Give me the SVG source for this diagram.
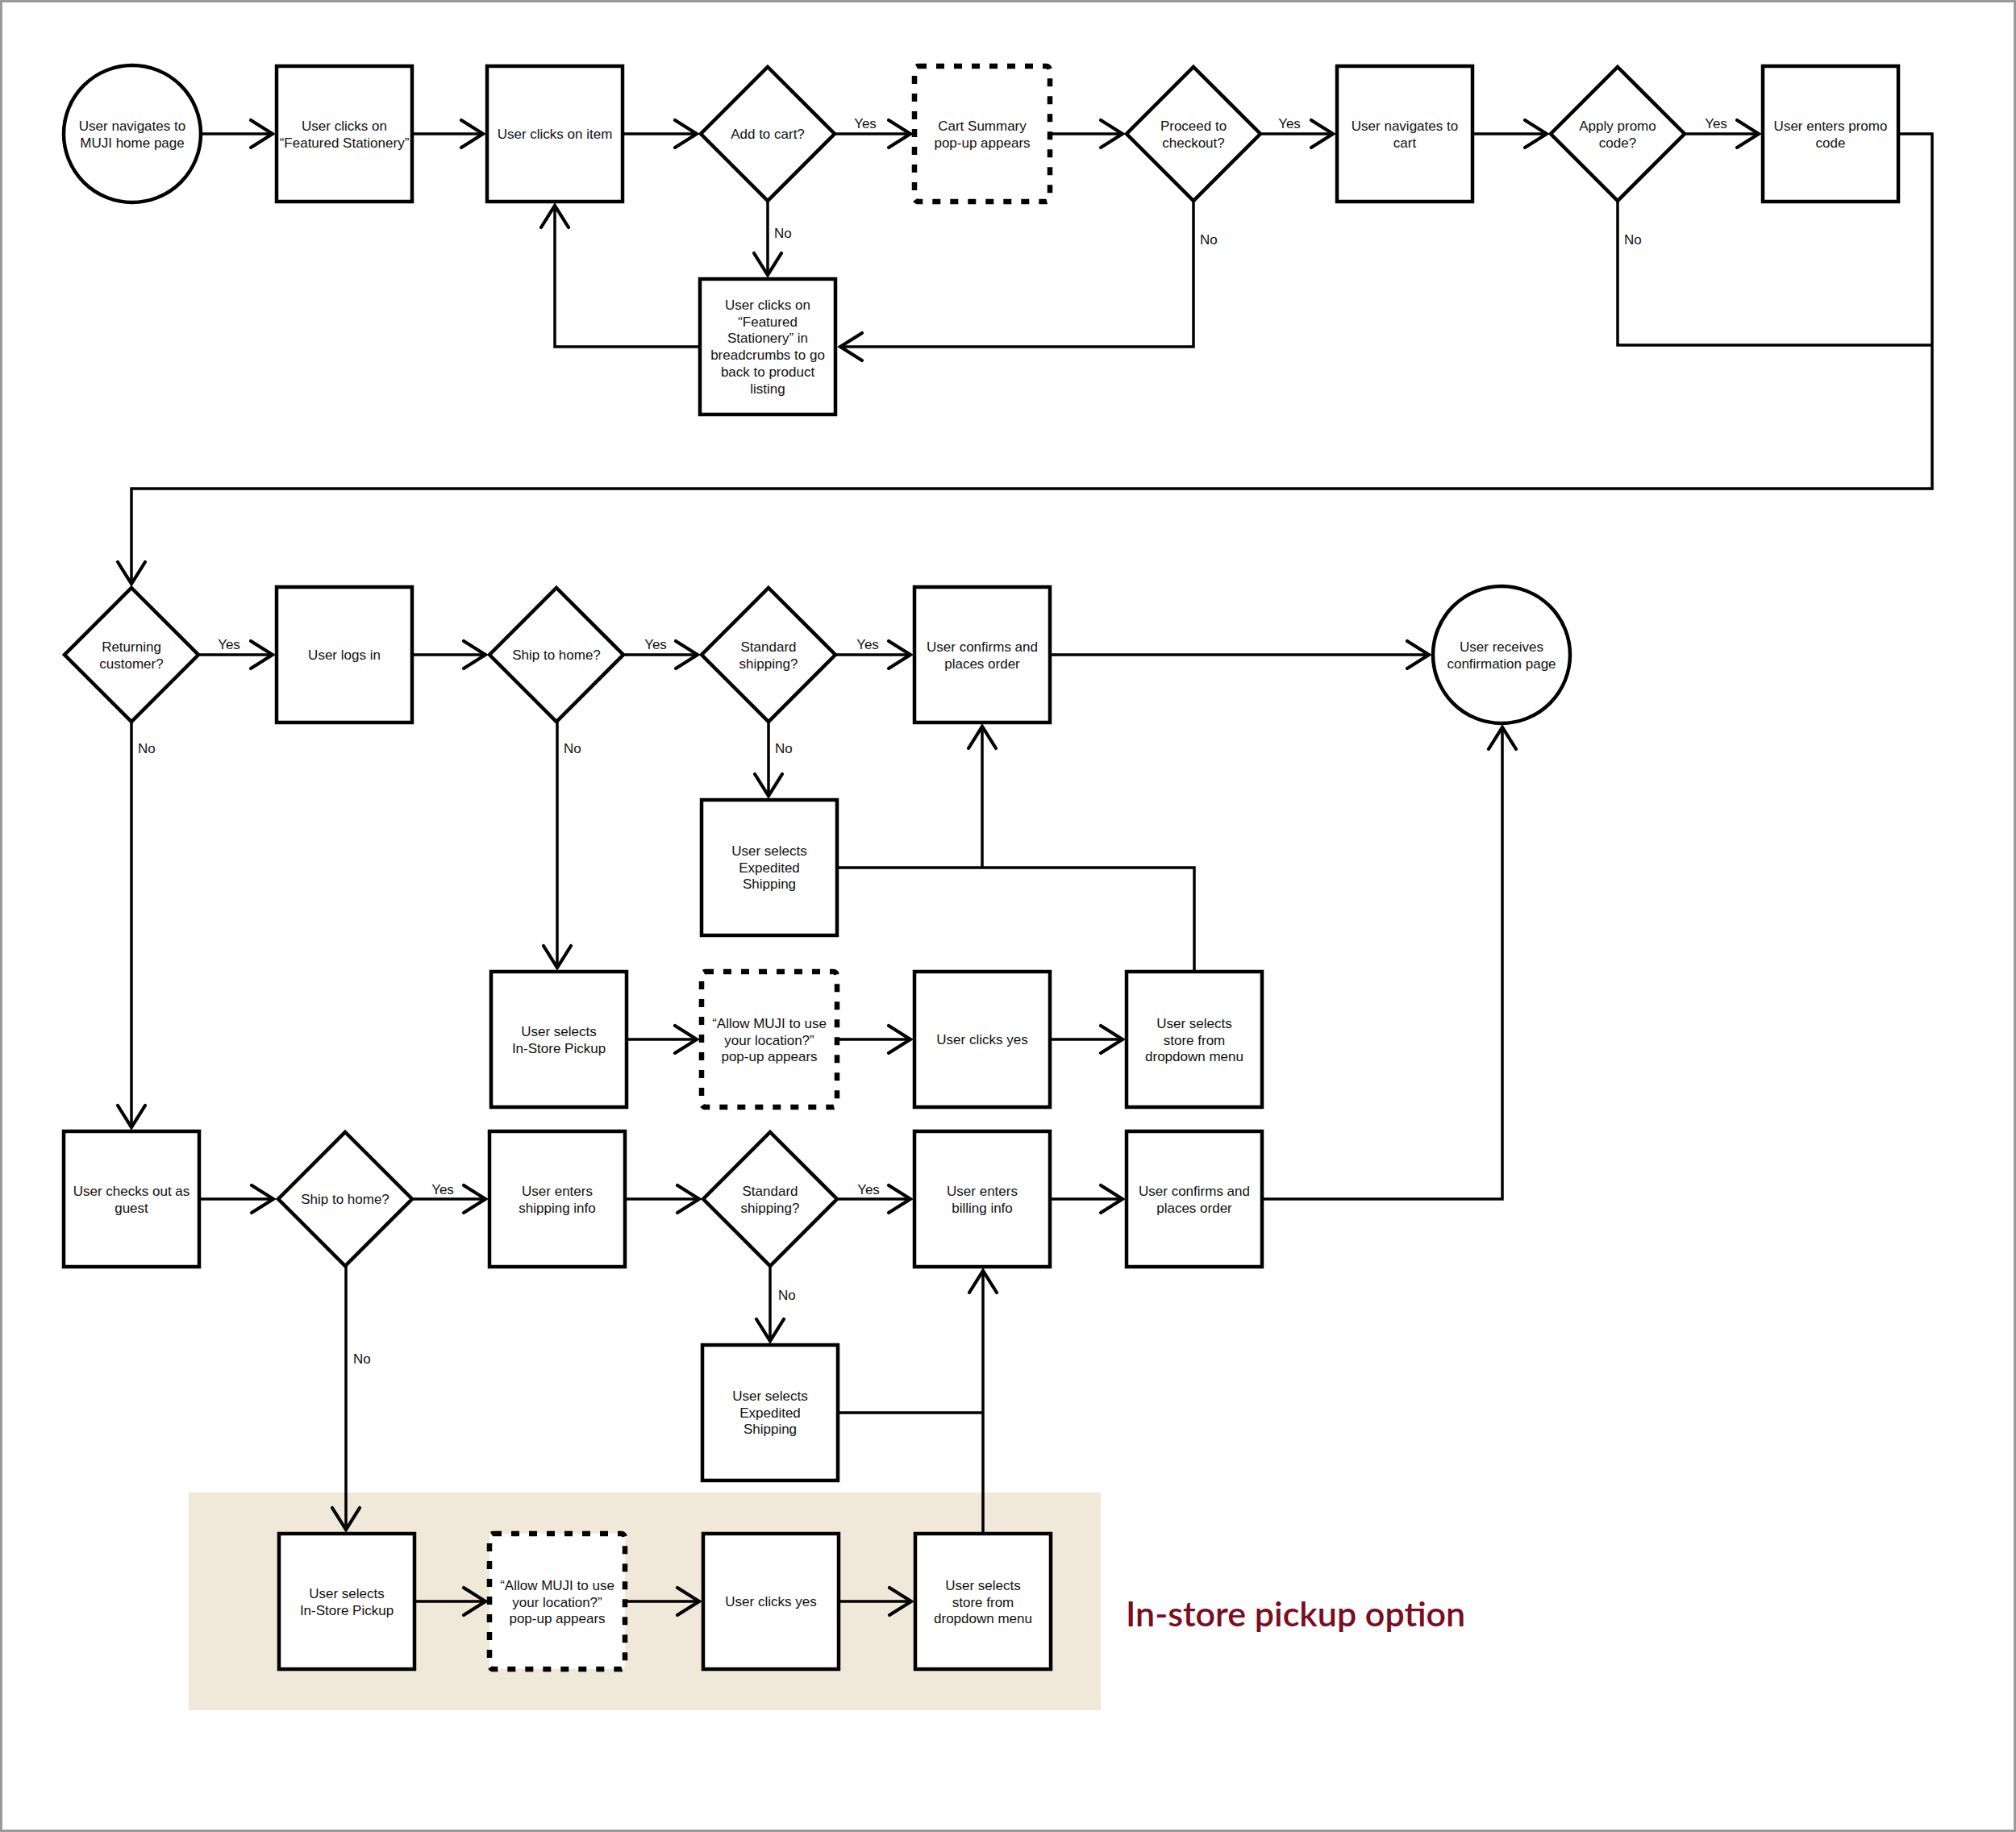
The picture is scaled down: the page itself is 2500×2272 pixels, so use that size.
<svg xmlns="http://www.w3.org/2000/svg" width="2500" height="2272" viewBox="0 0 2500 2272">
<defs>
<style>
.n{fill:#fff;stroke:#000;stroke-width:4.5}
.d{fill:#fff;stroke:#000;stroke-width:6.5;stroke-dasharray:10 12;}
.t{font-family:"Liberation Sans",Arial,sans-serif;font-size:17px;fill:#111;text-anchor:middle}
.l{font-family:"Liberation Sans",Arial,sans-serif;font-size:17px;fill:#111}
.c{fill:none;stroke:#000;stroke-width:3.5}
.a{marker-end:url(#ah)}
</style>
<marker id="ah" viewBox="-34 -24 40 48" refX="0" refY="0" markerWidth="40" markerHeight="48" markerUnits="userSpaceOnUse" orient="auto">
<path d="M-27,-17 L0,0 L-27,17" fill="none" stroke="#000" stroke-width="4.2" stroke-linecap="round"/>
</marker>
</defs>
<rect x="0" y="0" width="2500" height="2272" fill="#fff"/>
<rect x="1.5" y="1.5" width="2497" height="2269" fill="none" stroke="#9a9a9a" stroke-width="3"/>
<rect id="highlight" x="234" y="1851" width="1131" height="270" fill="#f0e8d9"/>
<text x="1396" y="2017" font-family="Lato,'Open Sans',sans-serif" font-size="43" font-weight="600" fill="#7a0d1f">In-store pickup option</text>

<g id="connectors">
<path class="c a" d="M249,166 H338"/>
<path class="c a" d="M511,166 H599"/>
<path class="c a" d="M772,166 H864"/>
<path class="c a" d="M1035,166 H1129"/>
<path class="c a" d="M1302,166 H1392"/>
<path class="c a" d="M1563,166 H1653"/>
<path class="c a" d="M1826,166 H1918"/>
<path class="c a" d="M2089,166 H2181"/>
<path class="c a" d="M952,249 V341"/>
<path class="c a" d="M868,430 H688 V255"/>
<path class="c a" d="M1480,249 V430 H1042"/>
<path class="c" d="M2006,249 V428 H2396"/>
<path class="c a" d="M2354,166 H2396 V606 H163 V724"/>

<path class="c a" d="M246,812 H338"/>
<path class="c a" d="M511,812 H602"/>
<path class="c a" d="M773,812 H865"/>
<path class="c a" d="M1036,812 H1129"/>
<path class="c a" d="M1302,812 H1772"/>
<path class="c a" d="M953,895 V987"/>
<path class="c" d="M1039,1076 H1481 V1205"/>
<path class="c a" d="M1218,1076 V901"/>
<path class="c a" d="M691,895 V1200"/>
<path class="c a" d="M163,895 V1398"/>
<path class="c a" d="M776,1289 H864"/>
<path class="c a" d="M1038,1289 H1129"/>
<path class="c a" d="M1302,1289 H1392"/>

<path class="c a" d="M247,1487 H339"/>
<path class="c a" d="M510,1487 H602"/>
<path class="c a" d="M775,1487 H867"/>
<path class="c a" d="M1038,1487 H1129"/>
<path class="c a" d="M1302,1487 H1392"/>
<path class="c a" d="M1565,1487 H1863 V902"/>
<path class="c a" d="M955,1570 V1663"/>
<path class="c" d="M1039,1752 H1219"/>
<path class="c a" d="M1219,1902 V1576"/>
<path class="c a" d="M429,1570 V1897"/>
<path class="c a" d="M514,1986 H602"/>
<path class="c a" d="M775,1986 H867"/>
<path class="c a" d="M1040,1986 H1130"/>

<text class="t" x="1073" y="159">Yes</text>
<text class="t" x="1599" y="159">Yes</text>
<text class="t" x="2128" y="159">Yes</text>
<text class="t" x="284" y="805">Yes</text>
<text class="t" x="813" y="805">Yes</text>
<text class="t" x="1076" y="805">Yes</text>
<text class="t" x="549" y="1481">Yes</text>
<text class="t" x="1077" y="1481">Yes</text>
<text class="l" x="960" y="295">No</text>
<text class="l" x="1488" y="303">No</text>
<text class="l" x="2014" y="303">No</text>
<text class="l" x="171" y="934">No</text>
<text class="l" x="699" y="934">No</text>
<text class="l" x="961" y="934">No</text>
<text class="l" x="438" y="1691">No</text>
<text class="l" x="965" y="1612">No</text>
</g>

<g id="n-home"><circle class="n" cx="164" cy="166" r="85"/><text class="t" x="164" y="162">User navigates to<tspan x="164" dy="20.7">MUJI home page</tspan></text></g>
<g id="n-featured"><rect class="n" x="343" y="82" width="168" height="168"/><text class="t" x="427" y="162">User clicks on<tspan x="427" dy="20.7">“Featured Stationery”</tspan></text></g>
<g id="n-item"><rect class="n" x="604" y="82" width="168" height="168"/><text class="t" x="688" y="172">User clicks on item</text></g>
<g id="n-addcart"><polygon class="n" points="952,83 1035,166 952,249 869,166"/><text class="t" x="952" y="172">Add to cart?</text></g>
<g id="n-cartsummary"><rect class="d" x="1134" y="82" width="168" height="168" rx="5"/><text class="t" x="1218" y="162">Cart Summary<tspan x="1218" dy="20.7">pop-up appears</tspan></text></g>
<g id="n-proceed"><polygon class="n" points="1480,83 1563,166 1480,249 1397,166"/><text class="t" x="1480" y="162">Proceed to<tspan x="1480" dy="20.7">checkout?</tspan></text></g>
<g id="n-navcart"><rect class="n" x="1658" y="82" width="168" height="168"/><text class="t" x="1742" y="162">User navigates to<tspan x="1742" dy="20.7">cart</tspan></text></g>
<g id="n-promo"><polygon class="n" points="2006,83 2089,166 2006,249 1923,166"/><text class="t" x="2006" y="162">Apply promo<tspan x="2006" dy="20.7">code?</tspan></text></g>
<g id="n-enterpromo"><rect class="n" x="2186" y="82" width="168" height="168"/><text class="t" x="2270" y="162">User enters promo<tspan x="2270" dy="20.7">code</tspan></text></g>
<g id="n-breadcrumbs"><rect class="n" x="868" y="346" width="168" height="168"/><text class="t" x="952" y="384">User clicks on<tspan x="952" dy="20.7">“Featured</tspan><tspan x="952" dy="20.7">Stationery” in</tspan><tspan x="952" dy="20.7">breadcrumbs to go</tspan><tspan x="952" dy="20.7">back to product</tspan><tspan x="952" dy="20.7">listing</tspan></text></g>

<g id="n-returning"><polygon class="n" points="163,729 246,812 163,895 80,812"/><text class="t" x="163" y="808">Returning<tspan x="163" dy="20.7">customer?</tspan></text></g>
<g id="n-login"><rect class="n" x="343" y="728" width="168" height="168"/><text class="t" x="427" y="818">User logs in</text></g>
<g id="n-shiphome1"><polygon class="n" points="690,729 773,812 690,895 607,812"/><text class="t" x="690" y="818">Ship to home?</text></g>
<g id="n-standard1"><polygon class="n" points="953,729 1036,812 953,895 870,812"/><text class="t" x="953" y="808">Standard<tspan x="953" dy="20.7">shipping?</tspan></text></g>
<g id="n-confirm1"><rect class="n" x="1134" y="728" width="168" height="168"/><text class="t" x="1218" y="808">User confirms and<tspan x="1218" dy="20.7">places order</tspan></text></g>
<g id="n-confirmpage"><circle class="n" cx="1862" cy="812" r="85"/><text class="t" x="1862" y="808">User receives<tspan x="1862" dy="20.7">confirmation page</tspan></text></g>
<g id="n-expedited1"><rect class="n" x="870" y="992" width="168" height="168"/><text class="t" x="954" y="1061">User selects<tspan x="954" dy="20.7">Expedited</tspan><tspan x="954" dy="20.7">Shipping</tspan></text></g>
<g id="n-instore1"><rect class="n" x="609" y="1205" width="168" height="168"/><text class="t" x="693" y="1285">User selects<tspan x="693" dy="20.7">In-Store Pickup</tspan></text></g>
<g id="n-allow1"><rect class="d" x="870" y="1205" width="168" height="168" rx="5"/><text class="t" x="954" y="1275">“Allow MUJI to use<tspan x="954" dy="20.7">your location?”</tspan><tspan x="954" dy="20.7">pop-up appears</tspan></text></g>
<g id="n-yes1"><rect class="n" x="1134" y="1205" width="168" height="168"/><text class="t" x="1218" y="1295">User clicks yes</text></g>
<g id="n-store1"><rect class="n" x="1397" y="1205" width="168" height="168"/><text class="t" x="1481" y="1275">User selects<tspan x="1481" dy="20.7">store from</tspan><tspan x="1481" dy="20.7">dropdown menu</tspan></text></g>

<g id="n-guest"><rect class="n" x="79" y="1403" width="168" height="168"/><text class="t" x="163" y="1483">User checks out as<tspan x="163" dy="20.7">guest</tspan></text></g>
<g id="n-shiphome2"><polygon class="n" points="428,1404 511,1487 428,1570 345,1487"/><text class="t" x="428" y="1493">Ship to home?</text></g>
<g id="n-shipinfo"><rect class="n" x="607" y="1403" width="168" height="168"/><text class="t" x="691" y="1483">User enters<tspan x="691" dy="20.7">shipping info</tspan></text></g>
<g id="n-standard2"><polygon class="n" points="955,1404 1038,1487 955,1570 872,1487"/><text class="t" x="955" y="1483">Standard<tspan x="955" dy="20.7">shipping?</tspan></text></g>
<g id="n-billing"><rect class="n" x="1134" y="1403" width="168" height="168"/><text class="t" x="1218" y="1483">User enters<tspan x="1218" dy="20.7">billing info</tspan></text></g>
<g id="n-confirm2"><rect class="n" x="1397" y="1403" width="168" height="168"/><text class="t" x="1481" y="1483">User confirms and<tspan x="1481" dy="20.7">places order</tspan></text></g>
<g id="n-expedited2"><rect class="n" x="871" y="1668" width="168" height="168"/><text class="t" x="955" y="1737">User selects<tspan x="955" dy="20.7">Expedited</tspan><tspan x="955" dy="20.7">Shipping</tspan></text></g>
<g id="n-instore2"><rect class="n" x="346" y="1902" width="168" height="168"/><text class="t" x="430" y="1982">User selects<tspan x="430" dy="20.7">In-Store Pickup</tspan></text></g>
<g id="n-allow2"><rect class="d" x="607" y="1902" width="168" height="168" rx="5"/><text class="t" x="691" y="1972">“Allow MUJI to use<tspan x="691" dy="20.7">your location?”</tspan><tspan x="691" dy="20.7">pop-up appears</tspan></text></g>
<g id="n-yes2"><rect class="n" x="872" y="1902" width="168" height="168"/><text class="t" x="956" y="1992">User clicks yes</text></g>
<g id="n-store2"><rect class="n" x="1135" y="1902" width="168" height="168"/><text class="t" x="1219" y="1972">User selects<tspan x="1219" dy="20.7">store from</tspan><tspan x="1219" dy="20.7">dropdown menu</tspan></text></g>
</svg>
